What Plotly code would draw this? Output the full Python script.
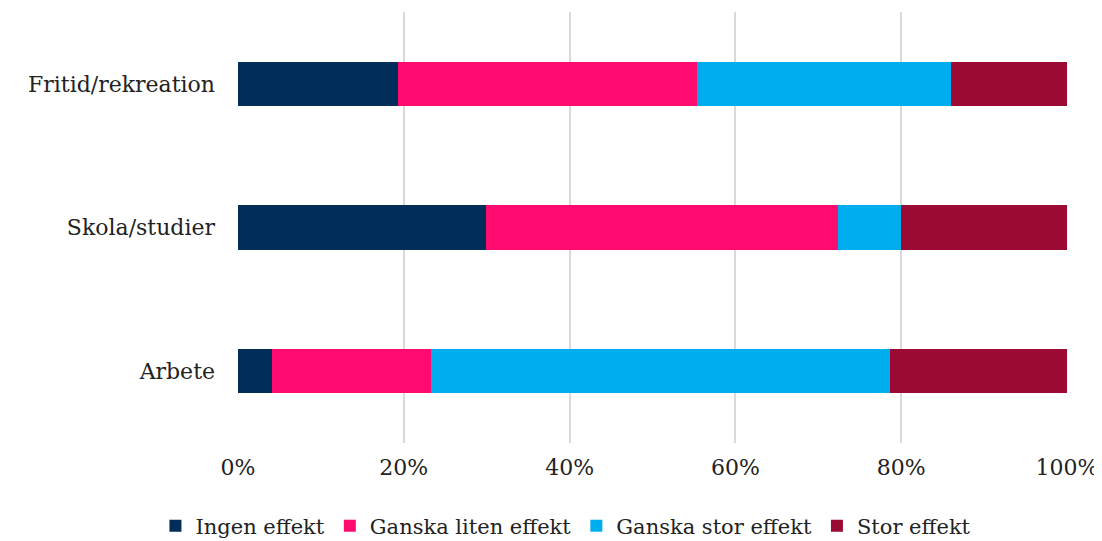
import plotly.graph_objects as go

categories = ["Arbete", "Skola/studier", "Fritid/rekreation"]
series_names = ["Ingen effekt", "Ganska liten effekt", "Ganska stor effekt", "Stor effekt"]
ingen = [4.1, 29.9, 19.3]
liten = [19.2, 42.5, 36.1]
stor_ganska = [55.3, 7.6, 30.6]
stor = [21.4, 20.0, 14.0]
colors = ["#002D5A", "#FF0A6E", "#00AEEF", "#9B0A32"]
tick_vals = [0, 20, 40, 60, 80, 100]
tick_text = ["0%", "20%", "40%", "60%", "80%", "100%"]

fig = go.Figure()
for name, vals, c in zip(series_names, [ingen, liten, stor_ganska, stor], colors):
    fig.add_trace(go.Bar(y=categories, x=vals, name=name, orientation="h",
                         marker=dict(color=c, line=dict(width=0))))

font = "DejaVu Serif"
fig.update_layout(
    barmode="stack", bargap=0.69,
    width=1094, height=533,
    margin=dict(l=230, r=35, t=4, b=98),
    plot_bgcolor="white", paper_bgcolor="white",
    font=dict(family=font, size=22, color="#222222"),
    xaxis=dict(range=[0, 100], tickvals=tick_vals, ticktext=tick_text,
               showgrid=True, gridcolor="#D9D9D9", gridwidth=2, zeroline=False,
               ticks="", ticklabelstandoff=9, fixedrange=True, automargin=False),
    yaxis=dict(showgrid=False, ticks="", ticklabelstandoff=22, fixedrange=True,
               automargin=False),
    legend=dict(orientation="h", xref="container", yref="container",
                x=0.51, xanchor="center", y=0.028, yanchor="middle",
                font=dict(size=21), itemwidth=30, traceorder="normal"),
    showlegend=True,
)
fig.write_html("out.html")
